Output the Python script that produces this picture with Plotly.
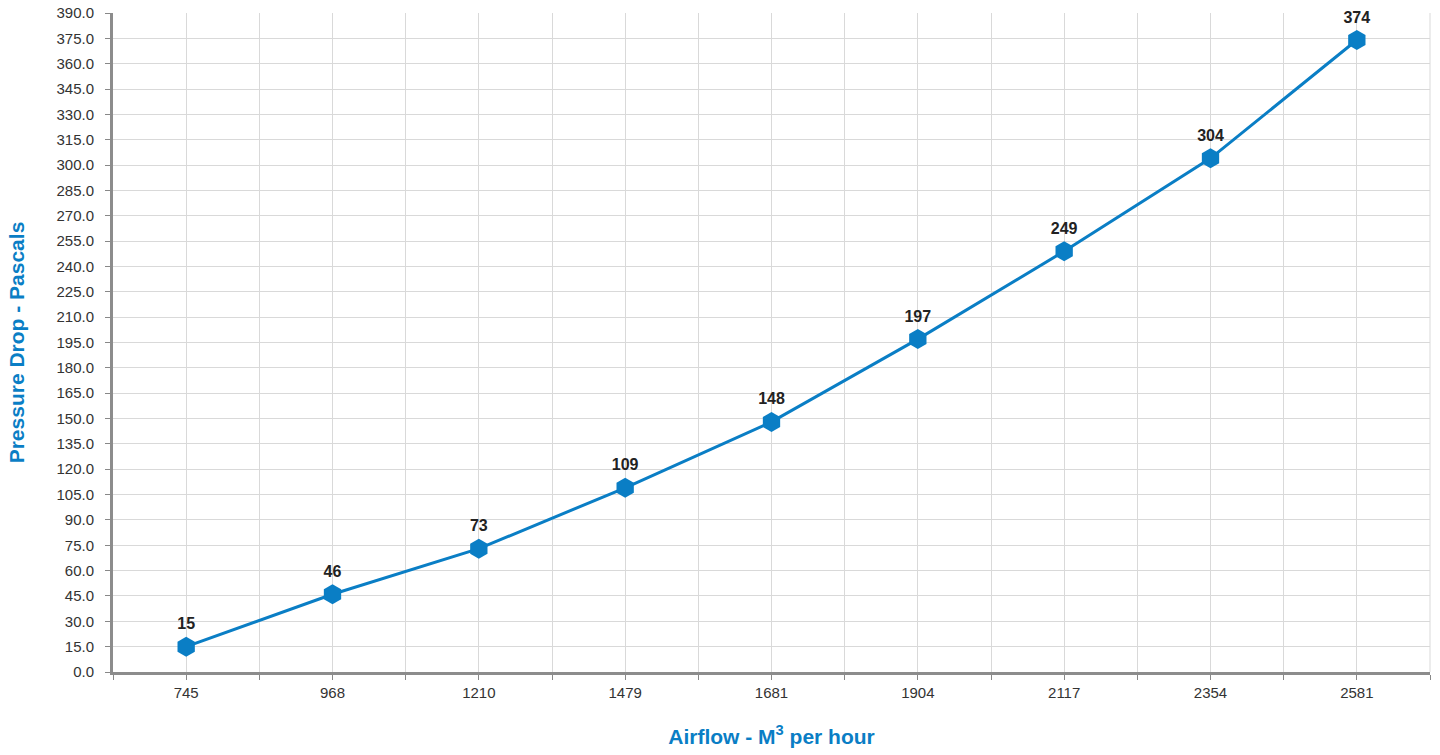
import plotly.graph_objects as go

airflow = ["745", "968", "1210", "1479", "1681", "1904", "2117", "2354", "2581"]
pressure = [15, 46, 73, 109, 148, 197, 249, 304, 374]
y_ticks = [i * 15 for i in range(27)]

xpos = list(range(len(airflow)))
blue = "#0a7ec5"

fig = go.Figure()
fig.add_trace(go.Scatter(
    x=xpos, y=pressure, mode="lines+markers+text",
    line=dict(color=blue, width=3),
    marker=dict(symbol="hexagon", size=20, color=blue),
    text=[str(v) for v in pressure], textposition="top center",
    textfont=dict(family="Liberation Sans, Arial", size=16, color="#222222", weight="bold"),
    cliponaxis=False, hoverinfo="skip",
))

fig.update_layout(
    width=1440, height=755,
    margin=dict(l=113, r=10, t=13, b=83, autoexpand=False),
    plot_bgcolor="white", paper_bgcolor="white",
    showlegend=False,
    font=dict(family="Liberation Sans, Arial", size=15, color="#333333"),
)
fig.update_xaxes(
    range=[-0.5, len(airflow) - 0.5],
    tickvals=xpos, ticktext=airflow,
    showgrid=True, gridcolor="#d9d9d9", gridwidth=1,
    ticks="outside", ticklen=5, tickcolor="#888888",
    minor=dict(tickvals=[i - 0.5 for i in range(len(airflow) + 1)], showgrid=True,
               gridcolor="#d9d9d9", ticks="outside", ticklen=5, tickcolor="#888888"),
    showline=True, linecolor="#8c8c8c", linewidth=3,
    zeroline=False, automargin=False, ticklabeloverflow="allow",
    title=dict(text="Airflow - M<sup>3</sup> per hour", standoff=30,
               font=dict(size=21, color=blue, weight="bold")),
    tickfont=dict(size=15, color="#333333"),
)
fig.update_yaxes(
    range=[0, 390], tickvals=y_ticks, tickformat=".1f",
    showgrid=True, gridcolor="#d9d9d9", gridwidth=1,
    ticks="outside", ticklen=5, tickcolor="#888888",
    showline=True, linecolor="#8c8c8c", linewidth=3,
    zeroline=False, automargin=False, ticklabelstandoff=8, ticklabeloverflow="allow",
    title=dict(text="Pressure Drop - Pascals", standoff=27,
               font=dict(size=21, color=blue, weight="bold")),
    tickfont=dict(size=15, color="#333333"),
)
# right border line of plot area
fig.add_shape(type="line", xref="paper", yref="paper", x0=1, x1=1, y0=0, y1=1,
              line=dict(color="#d9d9d9", width=1))

fig.write_html("out.html", config={"displayModeBar": False},
               post_script="document.body.style.margin='0';document.body.style.overflow='hidden';")
